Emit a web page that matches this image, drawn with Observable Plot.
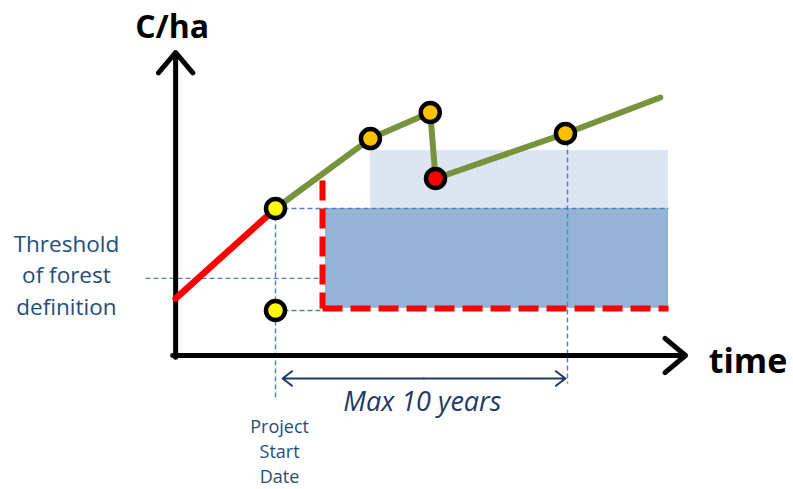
<!DOCTYPE html>
<html>
<head>
<meta charset="utf-8">
<script src="https://cdn.jsdelivr.net/npm/d3@7"></script>
<script src="https://cdn.jsdelivr.net/npm/@observablehq/plot@0.6"></script>
<style>
  html, body { margin: 0; padding: 0; background: #fff; }
  #chart svg { display: block; }
</style>
</head>
<body>
<div id="chart"></div>
<script>
// Conceptual units: t = years after project start, c = carbon per hectare (arbitrary units)
const axisOrigin = {t: -3.42, c: 0};
const axisEnds = {t: 14.04, c: 101};

const baselineGrowth = [{t: -3.42, c: 19}, {t: 0, c: 49}];             // red segment before project
const projectGrowth = [                                                // green trajectory
  {t: 0, c: 49}, {t: 3.25, c: 72.3}, {t: 5.3, c: 81}, {t: 5.48, c: 59},
  {t: 9.93, c: 74}, {t: 13.18, c: 86}
];
const markers = [
  {t: 0, c: 49, kind: "yellow"}, {t: 0, c: 15, kind: "yellow"},
  {t: 3.25, c: 72.3, kind: "orange"}, {t: 5.3, c: 81, kind: "orange"},
  {t: 5.48, c: 59, kind: "red"}, {t: 9.93, c: 74, kind: "orange"}
];
const zones = [
  {t1: 3.25, t2: 13.46, c1: 49, c2: 68.3, kind: "upper"},
  {t1: 1.71, t2: 13.46, c1: 15.7, c2: 49, kind: "lower"}
];
const redDashed = [
  {t1: 1.61, c1: 58.3, t2: 1.61, c2: 15.7},
  {t1: 1.61, c1: 15.7, t2: 13.46, c2: 15.7}
];
const guideLines = [
  {t1: -4.45, c1: 25.7, t2: 1.61, c2: 25.7},   // threshold of forest definition
  {t1: 0, c1: 49, t2: 0, c2: -15},             // project start date
  {t1: 0, c1: 49, t2: 13.46, c2: 49},
  {t1: 0, c1: 15, t2: 1.61, c2: 15},
  {t1: 10, c1: 74, t2: 10, c2: -9.3}           // ten years later
];
const spanArrow = {t1: 0.24, t2: 9.93, c: -7.67, mid: 5.08};
const labels = [
  {t: -3.54, c: 109.4, text: "C/ha", size: 32, weight: "bold", style: "normal", color: "#000", lh: 1},
  {t: 16.18, c: -2.3, text: "time", size: 34, weight: "bold", style: "normal", color: "#000", lh: 1},
  {t: 5.03, c: -15.5, text: "Max 10 years", size: 27, weight: "normal", style: "italic", color: "#1F3864", lh: 1},
  {t: -7.16, c: 27.4, text: "Threshold\nof forest\ndefinition", size: 22.5, weight: "normal", style: "normal", color: "#1F4E79", lh: 1.4},
  {t: 0.14, c: -31.4, text: "Project\nStart\nDate", size: 18, weight: "normal", style: "normal", color: "#1F4E79", lh: 1.39}
];

const markerColors = {yellow: "#FFFF00", orange: "#FFC000", red: "#FF0000"};
const zoneColors = {upper: "#DCE6F2", lower: "#95B3D7"};

const W = 793, H = 489;
const pxPerYear = 29.2, pxPerC = 3;
const xDomain = [-275 / pxPerYear, (W - 275) / pxPerYear];
const yDomain = [-(H - 355) / pxPerC, 355 / pxPerC];

const font = "'Open Sans', sans-serif";
const textMarks = labels.map(d => Plot.text([d], {
  x: "t", y: "c", text: "text", fontSize: d.size, fontWeight: d.weight, fontStyle: d.style,
  fill: d.color, lineHeight: d.lh, textAnchor: "middle", fontFamily: font
}));

const plot = Plot.plot({
  width: W, height: H,
  margin: 0,
  x: {domain: xDomain, axis: null},
  y: {domain: yDomain, axis: null},
  style: {fontFamily: font, background: "#fff"},
  marks: [
    Plot.rect(zones, {x1: "t1", x2: "t2", y1: "c1", y2: "c2", fill: d => zoneColors[d.kind]}),
    Plot.link(guideLines, {x1: "t1", y1: "c1", x2: "t2", y2: "c2", stroke: "#4F81BD", strokeWidth: 1.4, strokeDasharray: "5,3"}),
    Plot.link(redDashed, {x1: "t1", y1: "c1", x2: "t2", y2: "c2", stroke: "#FF0000", strokeWidth: 6, strokeDasharray: "20,8", strokeLinecap: "butt"}),
    Plot.arrow([axisOrigin], {x1: "t", y1: d => d.c - 0.6, x2: "t", y2: () => axisEnds.c, stroke: "#000", strokeWidth: 5, headLength: 8, headAngle: 80}),
    Plot.arrow([axisOrigin], {x1: d => d.t - 0.1, y1: "c", x2: () => axisEnds.t, y2: "c", stroke: "#000", strokeWidth: 5, headLength: 8, headAngle: 80}),
    Plot.arrow([spanArrow], {x1: "mid", y1: "c", x2: "t1", y2: "c", stroke: "#1F3864", strokeWidth: 2, headLength: 9, headAngle: 75}),
    Plot.arrow([spanArrow], {x1: "mid", y1: "c", x2: "t2", y2: "c", stroke: "#1F3864", strokeWidth: 2, headLength: 9, headAngle: 75}),
    Plot.line(baselineGrowth, {x: "t", y: "c", stroke: "#FF0000", strokeWidth: 6.5}),
    Plot.line(projectGrowth, {x: "t", y: "c", stroke: "#77933C", strokeWidth: 6, strokeLinejoin: "miter"}),
    Plot.dot(markers, {x: "t", y: "c", r: 9.5, fill: d => markerColors[d.kind], stroke: "#000", strokeWidth: 4.5}),
    ...textMarks
  ]
});
document.getElementById("chart").appendChild(plot);
</script>
</body>
</html>
